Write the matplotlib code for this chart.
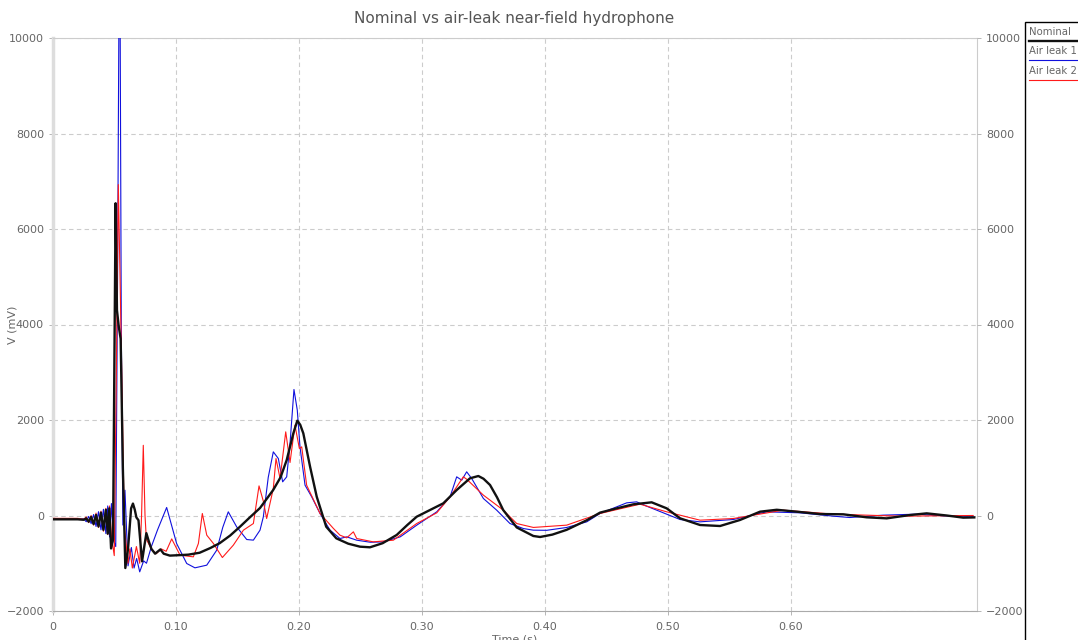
import matplotlib
matplotlib.use("Agg")
import matplotlib.pyplot as plt
from matplotlib.lines import Line2D
from matplotlib.patches import Rectangle

# Nominal hydrophone trace (time in s, voltage in mV)
nominal_t = [0, 0.020, 0.025, 0.027, 0.029, 0.031, 0.033, 0.035, 0.037, 0.039, 0.041,
             0.043, 0.0445, 0.0458, 0.0472, 0.0488, 0.0497, 0.0509, 0.0520, 0.0535,
             0.0550, 0.0568, 0.0588, 0.0610, 0.0635, 0.0650, 0.0665, 0.0678, 0.0695,
             0.0724, 0.0745, 0.0759, 0.0780, 0.0800, 0.0830, 0.0873, 0.0900, 0.0950,
             0.1030, 0.1100, 0.1192, 0.1280, 0.1355, 0.1440, 0.1518, 0.1600, 0.1683,
             0.1790, 0.1850, 0.1900, 0.1954, 0.1986, 0.2010, 0.2035, 0.2090, 0.2144,
             0.2221, 0.2303, 0.2400, 0.2496, 0.2577, 0.2680, 0.2794, 0.2880, 0.2957,
             0.3065, 0.3173, 0.3282, 0.3390, 0.3458, 0.3500, 0.3553, 0.3610, 0.3660,
             0.3770, 0.3905, 0.3960, 0.4060, 0.4176, 0.4339, 0.4447, 0.4583, 0.4718,
             0.4867, 0.4989, 0.5098, 0.5260, 0.5423, 0.5585, 0.5748, 0.5884, 0.6046,
             0.6236, 0.6425, 0.6615, 0.6778, 0.6967, 0.7103, 0.7266, 0.7400, 0.7490]
nominal_v = [-80, -80, -90, -60, -130, -30, -180, 10, -230, 60, -300,
             120, -380, 150, -690, -500, 2500, 6540, 4300, 3950,
             3700, 1000, -1100, -700, 150, 250, 120, -40, -100,
             -960, -600, -370, -550, -700, -800, -710, -800, -840,
             -830, -820, -780, -680, -580, -420, -240, -40, 157,
             534, 800, 1162, 1721, 1985, 1900, 1721, 1022, 394,
             -234, -478, -590, -653, -666, -580, -408, -200, -25,
             115, 255, 534, 779, 827, 770, 639, 380, 115,
             -250, -429, -450, -400, -300, -100, 60, 150, 234,
             276, 150, -59, -199, -220, -94, 80, 120, 80,
             31, 25, -38, -60, 10, 45, 0, -45, -40]

# Air leak 1
leak1_t = [0, 0.020, 0.025, 0.027, 0.029, 0.031, 0.033, 0.035, 0.037, 0.039, 0.041,
           0.043, 0.0445, 0.0460, 0.0475, 0.0490, 0.0510, 0.0525, 0.0537, 0.0545,
           0.0555, 0.0568, 0.0585, 0.0610, 0.0637, 0.0659, 0.0680, 0.0705, 0.0737,
           0.0760, 0.0800, 0.0850, 0.0924, 0.1005, 0.1087, 0.1154, 0.1250, 0.1331,
           0.1380, 0.1425, 0.1493, 0.1575, 0.1629, 0.1683, 0.1710, 0.1750, 0.1791,
           0.1832, 0.1867, 0.1900, 0.1927, 0.1959, 0.1986, 0.2008, 0.2049, 0.2103,
           0.2171, 0.2252, 0.2333, 0.2388, 0.2469, 0.2580, 0.2686, 0.2823, 0.2957,
           0.3120, 0.3228, 0.3282, 0.3323, 0.3363, 0.3404, 0.3499, 0.3607, 0.3715,
           0.3824, 0.3905, 0.4014, 0.4176, 0.4339, 0.4447, 0.4664, 0.4745, 0.4827,
           0.4989, 0.5098, 0.5260, 0.5531, 0.5802, 0.6073, 0.6344, 0.6477, 0.6748,
           0.7019, 0.7290, 0.7480]
leak1_v = [-80, -80, -70, -130, -20, -170, 20, -230, 80, -300, 130,
           -380, 200, -450, 250, -500, -650, 5000, 11000, 11000,
           4000, -200, 530, -1055, -670, -1100, -900, -1180, -950,
           -1000, -650, -300, 168, -586, -1005, -1096, -1040, -726,
           -250, 77, -237, -503, -516, -307, -28, 800, 1333,
           1193, 705, 810, 1508, 2639, 2206, 1438, 635, 391,
           42, -307, -482, -447, -517, -560, -552, -447, -203,
           77, 391, 810, 740, 915, 775, 356, 112, -168,
           -273, -307, -310, -251, -133, 42, 265, 286, 195,
           28, -84, -133, -84, 77, 56, -14, -42, 7,
           28, -14, -14]

# Air leak 2
leak2_t = [0, 0.020, 0.025, 0.027, 0.029, 0.031, 0.033, 0.035, 0.037, 0.039, 0.041,
           0.043, 0.0445, 0.0460, 0.0475, 0.0498, 0.0515, 0.0531, 0.0545, 0.0560,
           0.0575, 0.0583, 0.0610, 0.0625, 0.0645, 0.0678, 0.0705, 0.0720, 0.0734,
           0.0748, 0.0759, 0.0800, 0.0840, 0.0880, 0.0920, 0.0965, 0.1033, 0.1141,
           0.1182, 0.1214, 0.1250, 0.1304, 0.1377, 0.1466, 0.1548, 0.1629, 0.1675,
           0.1710, 0.1737, 0.1791, 0.1813, 0.1846, 0.1892, 0.1927, 0.1967, 0.2003,
           0.2022, 0.2062, 0.2171, 0.2280, 0.2333, 0.2388, 0.2442, 0.2469, 0.2604,
           0.2767, 0.2957, 0.3120, 0.3228, 0.3336, 0.3363, 0.3499, 0.3661, 0.3770,
           0.3905, 0.4176, 0.4447, 0.4772, 0.4989, 0.5260, 0.5531, 0.5938, 0.6344,
           0.6886, 0.7480]
leak2_v = [-60, -60, -80, -30, -150, 0, -200, 50, -250, 90, -330,
           150, -400, 200, -450, -840, 3000, 6930, 5000, 2800,
           500, -300, -1000, -700, -1100, -650, -1000, 0, 1470,
           0, -500, -700, -800, -700, -750, -490, -831, -866,
           -586, 42, -412, -586, -880, -621, -307, -168, 620,
           300, -63, 565, 1193, 775, 1752, 1110, 1892, 1403,
           1438, 635, 42, -272, -412, -468, -342, -482, -552,
           -517, -168, 56, 391, 810, 760, 426, 112, -168,
           -250, -202, 42, 237, 77, -98, -63, 112, 28,
           -14, 0]

series_names = ["Nominal", "Air leak 1", "Air leak 2"]
y_ticks = [-2000, 0, 2000, 4000, 6000, 8000, 10000]
x_ticks = [0, 0.10, 0.20, 0.30, 0.40, 0.50, 0.60]
x_tick_labels = ["0", "0.10", "0.20", "0.30", "0.40", "0.50", "0.60"]

W, H = 1078, 640
TEXT = "#666666"
GRID = "#cccccc"

fig = plt.figure(figsize=(W / 100, H / 100), dpi=100)
ax = fig.add_axes([53 / W, 1 - 611 / H, (977 - 53) / W, (611 - 38) / H])

ax.plot(leak1_t, leak1_v, color="#1010dd", lw=0.8, zorder=3)
ax.plot(leak2_t, leak2_v, color="#ff1a1a", lw=0.8, zorder=4)
ax.plot(nominal_t, nominal_v, color="#111111", lw=1.7, zorder=5)

ax.set_xlim(0, 0.7512)
ax.set_ylim(-2000, 10000)
ax.set_xticks(x_ticks)
ax.set_xticklabels(x_tick_labels)
ax.set_yticks(y_ticks)
ax.grid(True, color=GRID, ls=(0, (4, 3)), lw=0.8)
ax.tick_params(colors=TEXT, labelsize=8, length=3, width=0.6, color="#aaaaaa")
ax.tick_params(axis="x", pad=5)

for side in ["top", "right", "bottom"]:
    ax.spines[side].set_color(GRID)
    ax.spines[side].set_linewidth(0.8)
ax.spines["left"].set_color("#dddddd")
ax.spines["left"].set_linewidth(2.5)
ax.spines["bottom"].set_color("#aaaaaa")

ax.set_xlabel("Time (s)", color=TEXT, fontsize=8, labelpad=2)
ax.set_ylabel("V (mV)", color=TEXT, fontsize=8)
ax.yaxis.set_label_coords(-35 / (977 - 53), 0.5)

# Mirror the y axis on the right hand side
ax2 = ax.twinx()
ax2.set_ylim(ax.get_ylim())
ax2.set_yticks(y_ticks)
ax2.tick_params(colors=TEXT, labelsize=8, length=3, width=0.6, color="#aaaaaa")
for spine in ax2.spines.values():
    spine.set_visible(False)

fig.text(514 / W, 1 - 19 / H, "Nominal vs air-leak near-field hydrophone",
         ha="center", va="center", color="#555555", fontsize=11)

# Legend box, runs off the right edge of the figure
fig.patches.append(Rectangle((1025 / W, -0.05), 0.2, 1.05 - 22 / H, transform=fig.transFigure,
                             fill=False, edgecolor="black", lw=1.0))
legend_colors = ["#111111", "#1010dd", "#ff1a1a"]
legend_widths = [1.7, 0.8, 0.8]
for i, name in enumerate(series_names):
    y_text = 32 + i * 19.5
    fig.text(1029 / W, 1 - y_text / H, name, ha="left", va="center", color=TEXT, fontsize=7.3)
    fig.lines.append(Line2D([1029 / W, 1.0], [1 - (y_text + 8.5) / H] * 2, transform=fig.transFigure,
                            color=legend_colors[i], lw=legend_widths[i]))

fig.savefig("out.png", dpi=100)
